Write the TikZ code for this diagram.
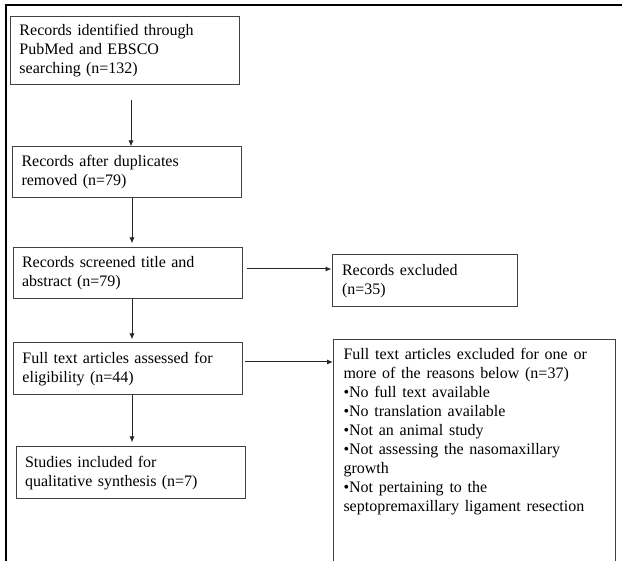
\documentclass[tikz,border=0pt]{standalone}
\usepackage{fontspec}
\setmainfont{Liberation Serif}
\usetikzlibrary{arrows.meta}

\newcommand\boxfont{\fontsize{16pt}{19pt}\selectfont\spaceskip=0.36em plus 0.1em\relax}

\begin{document}
\begin{tikzpicture}
	[x=1pt,y=-1pt,line width=1pt,>={Latex[length=6pt,width=5pt]},
	box/.style = {
		draw=black!75,
		inner xsep=9pt, inner ysep=0pt,
		text width=211pt, align=left,
		font=\boxfont
	},
	exclbox/.style = {
		draw=black!75,
		inner xsep=10pt, inner ysep=0pt,
		text width=165pt, align=left,
		font=\boxfont
	},
	reasonbox/.style = {
		draw=black!75, anchor=north west,
		inner xsep=10pt, inner ysep=9pt,
		font=\boxfont
	},
	frame/.style = {
		draw=black, line width=1.8pt
	},
	flow/.style = {
		->, draw=black!85
	}]
	\useasboundingbox (0,0) rectangle (622,561);
	
	%Draw frame
	\coordinate (ftr) at (622,5);
	\coordinate (fbl) at (6,561);
	\draw[frame] (ftr) -| (fbl);
	
	%Draw nodes
	\node[box, minimum height=68] at (125,51) (ident)
		{Records identified through\\PubMed and EBSCO\\searching (n=132)};
	\node[box, minimum height=51] at (127,172.5) (dup)
		{Records after duplicates\\removed (n=79)};
	\node[box, minimum height=51] at (127.5,273.5) (scr)
		{Records screened title and\\abstract (n=79)};
	\node[box, minimum height=52] at (128,369) (full)
		{Full text articles assessed for\\eligibility (n=44)};
	\node[box, minimum height=52] at (130.5,473) (incl)
		{Studies included for\\qualitative synthesis (n=7)};
	
	\node[exclbox, minimum height=52] at (424.5,281) (excl)
		{Records excluded\\(n=35)};
	\node[reasonbox] at (333,339) (reasons)
		{\begin{minipage}[t][208pt]{262pt}
		Full text articles excluded for one or\\
		more of the reasons below (n=37)\\
		•No full text available\\
		•No translation available\\
		•Not an animal study\\
		•Not assessing the nasomaxillary\\
		growth\\
		•Not pertaining to the\\
		septopremaxillary ligament resection
		\end{minipage}};
	
	%Draw arrows
	\draw[flow,shorten <=15pt] ([xshift=6pt]ident.south) -- ([xshift=6pt]ident.south |- dup.north);
	\draw[flow,shorten >=4pt] ([xshift=5pt]dup.south) -- ([xshift=5pt]dup.south |- scr.north);
	\draw[flow,shorten >=3pt] ([xshift=4.5pt]scr.south) -- ([xshift=4.5pt]scr.south |- full.north);
	\draw[flow,shorten >=4pt] ([xshift=4pt]full.south) -- ([xshift=4pt]full.south |- incl.north);
	
	\draw[flow,shorten <=4pt] ([yshift=4.5pt]scr.east) -- ([yshift=4.5pt]scr.east -| excl.west);
	\draw[flow,shorten <=2pt] ([yshift=7pt]full.east) -- ([yshift=7pt]full.east -| reasons.west);
	
\end{tikzpicture}
\end{document}
